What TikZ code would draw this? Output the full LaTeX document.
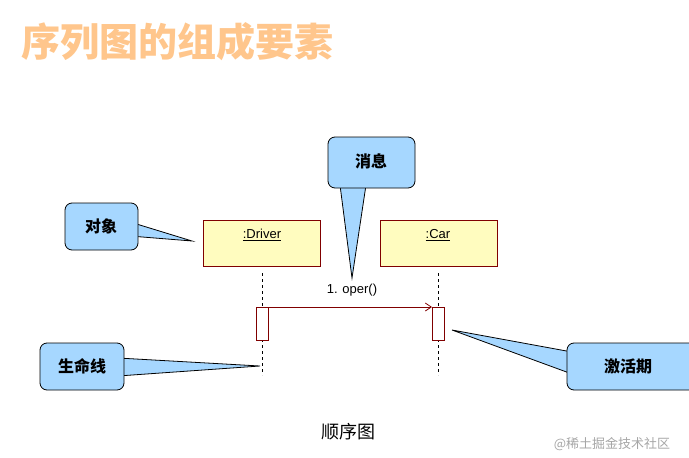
\documentclass[tikz,border=0pt]{standalone}
\usetikzlibrary{arrows.meta}
\usepackage{fontspec}
\newfontfamily\cjk{Noto Sans CJK SC}
\setmainfont{Liberation Sans}
\begin{document}
\begin{tikzpicture}[x=1pt,y=-1pt,
  callout/.style={draw=black,fill=blue!45!cyan!35,line width=0.8pt},
  obj/.style={draw=red!50!black,fill=yellow!25,line width=0.8pt},
  lifeline/.style={dashed,line width=0.7pt},
  act/.style={draw=red!50!black,fill=white,line width=0.8pt},
  ctext/.style={font=\cjk\bfseries\fontsize{16}{16}\selectfont},
  ]
\useasboundingbox (0,0) rectangle (689,458);
\node[font=\cjk\bfseries\fontsize{39}{39}\selectfont,text=orange!45,anchor=west] (title) at (18,42) {序列图的组成要素};
% callouts
\draw[callout] (130,222) -- (192,241) -- (130,236) -- cycle;
\draw[callout,rounded corners=7] (65,203) rectangle (138,250);
\node[ctext] (t1) at (101,226) {对象};
\draw[callout] (340,185) -- (352,278) -- (366,185) -- cycle;
\draw[callout,rounded corners=7] (328,137) rectangle (415,188);
\node[ctext] (t2) at (371,161) {消息};
\draw[callout] (118,358) -- (260,366) -- (118,376) -- cycle;
\draw[callout,rounded corners=7] (40,343) rectangle (124,390);
\node[ctext] (t3) at (82,366) {生命线};
\draw[callout] (572,352) -- (452,330) -- (572,374) -- cycle;
\draw[callout,rounded corners=7] (567,343) rectangle (700,390);
\node[ctext] (t4) at (628,366) {激活期};
% objects
\draw[obj] (203,220) rectangle (320,266);
\node[font=\fontsize{13}{13}\selectfont] (d) at (262,235) {\underline{:Driver}};
\draw[obj] (380,220) rectangle (497,266);
\node[font=\fontsize{13}{13}\selectfont] (c) at (438,235) {\underline{:Car}};
\draw[lifeline] (262,273) -- (262,375);
\draw[lifeline] (438,273) -- (438,375);
\draw[act] (256,307) rectangle (268,340);
\draw[act] (432,307) rectangle (444,340);
\coordinate (ms) at (268,307); \coordinate (me) at (432,307);
\draw[red!50!black,line width=0.8pt,-{Straight Barb[length=6pt,width=8pt]}] (ms) -- (me);
\node[font=\fontsize{13}{13}\selectfont] (m) at (352,290) {1. oper()};
\node[font=\cjk\fontsize{18}{18}\selectfont] (cap) at (348,432) {顺序图};
\node[font=\cjk\fontsize{13}{13}\selectfont,text=gray!70] (wm) at (612,444) {@稀土掘金技术社区};
\end{tikzpicture}
\end{document}
